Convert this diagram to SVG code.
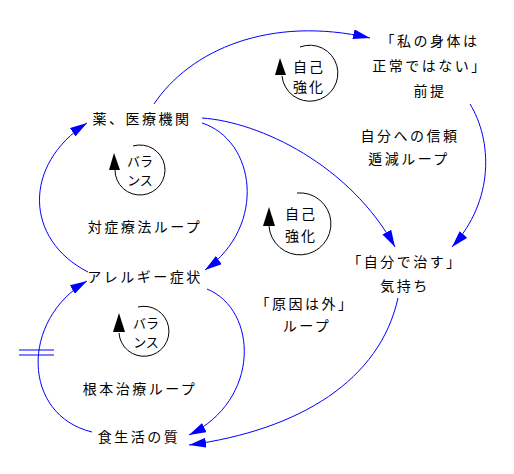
<svg xmlns="http://www.w3.org/2000/svg" width="514" height="474" viewBox="0 0 514 474">
<style>
.t{font-family:"Noto Sans CJK JP","Noto Sans CJK SC",sans-serif;font-size:14px;fill:#000;text-anchor:middle;letter-spacing:2.5px}
.s{font-family:"Noto Sans CJK JP","Noto Sans CJK SC",sans-serif;font-size:14px;fill:#000;text-anchor:middle}
.b{font-family:"Noto Sans CJK JP","Noto Sans CJK SC",sans-serif;font-size:13px;fill:#000;text-anchor:middle}
.c{fill:none;stroke:#0000ff;stroke-width:1}
.l{fill:none;stroke:#000;stroke-width:1}
</style>
<defs>
<marker id="ah" viewBox="0 0 17 10" refX="17" refY="5" markerWidth="17" markerHeight="10" markerUnits="userSpaceOnUse" orient="auto">
<path d="M0,0 L17,5 L0,10 Z" fill="#0000ff"/>
</marker>
</defs>
<rect width="514" height="474" fill="#fff"/>
<g id="connectors">
<path class="c" d="M154,104 C190,50 270,15 370,38" marker-end="url(#ah)"/>
<path class="c" d="M202,118 C260,122 350,165 395,247" marker-end="url(#ah)"/>
<path class="c" d="M470,104 C492,140 495,200 452,247" marker-end="url(#ah)"/>
<path class="c" d="M202,123 C255,140 268,225 205,270" marker-end="url(#ah)"/>
<path class="c" d="M88,272 C25,240 22,165 87,123" marker-end="url(#ah)"/>
<path class="c" d="M207,289 C258,310 261,400 189,435" marker-end="url(#ah)"/>
<path class="c" d="M92,432 C22,415 20,320 87,281" marker-end="url(#ah)"/>
<path class="c" d="M398,298 C380,380 300,430 189,445" marker-end="url(#ah)"/>
<path class="c" d="M19,350 H54 M19,355 H54"/>
</g>
<g id="n-kusuri"><text class="t" x="142" y="124">薬、医療機関</text></g>
<g id="n-zentei">
<text class="t" x="430" y="46">「私の身体は</text>
<text class="t" x="430" y="71">正常ではない」</text>
<text class="t" x="430" y="96">前提</text>
</g>
<g id="n-jibun-loop">
<text class="t" x="410" y="141">自分への信頼</text>
<text class="t" x="409" y="164">遁減ループ</text>
</g>
<g id="n-taisho"><text class="t" x="145" y="232">対症療法ループ</text></g>
<g id="n-allergy"><text class="t" x="145" y="282">アレルギー症状</text></g>
<g id="n-konpon"><text class="t" x="140" y="394">根本治療ループ</text></g>
<g id="n-shoku"><text class="t" x="139" y="442">食生活の質</text></g>
<g id="n-naosu">
<text class="t" x="405" y="267">「自分で治す」</text>
<text class="t" x="405" y="291">気持ち</text>
</g>
<g id="n-gen-in">
<text class="t" x="305" y="309">「原因は外」</text>
<text class="t" x="307" y="331">ループ</text>
</g>
<g id="loop-b1">
<path class="l" d="M115,170 A25,25 0 1 0 133,146"/>
<path d="M114,153 L109,170 L120,170 Z" fill="#000"/>
<text class="b" x="140" y="166">バラ</text>
<text class="b" x="140" y="185">ンス</text>
</g>
<g id="loop-r1">
<path class="l" d="M282,76 A28,28 0 1 0 300,47"/>
<path d="M280,58 L275,75 L286,75 Z" fill="#000"/>
<text class="s" x="309" y="72" style="letter-spacing:2px">自己</text>
<text class="s" x="309" y="92" style="letter-spacing:2px">強化</text>
</g>
<g id="loop-r2">
<path class="l" d="M269,226 A31,31 0 1 0 297,193"/>
<path d="M269,207 L263,226 L275,226 Z" fill="#000"/>
<text class="s" x="301" y="219" style="letter-spacing:2px">自己</text>
<text class="s" x="301" y="241" style="letter-spacing:2px">強化</text>
</g>
<g id="loop-b2">
<path class="l" d="M119,333 A25,25 0 1 0 138,307"/>
<path d="M119,313 L113,332 L125,332 Z" fill="#000"/>
<text class="b" x="146" y="328">バラ</text>
<text class="b" x="146" y="347">ンス</text>
</g>
</svg>
